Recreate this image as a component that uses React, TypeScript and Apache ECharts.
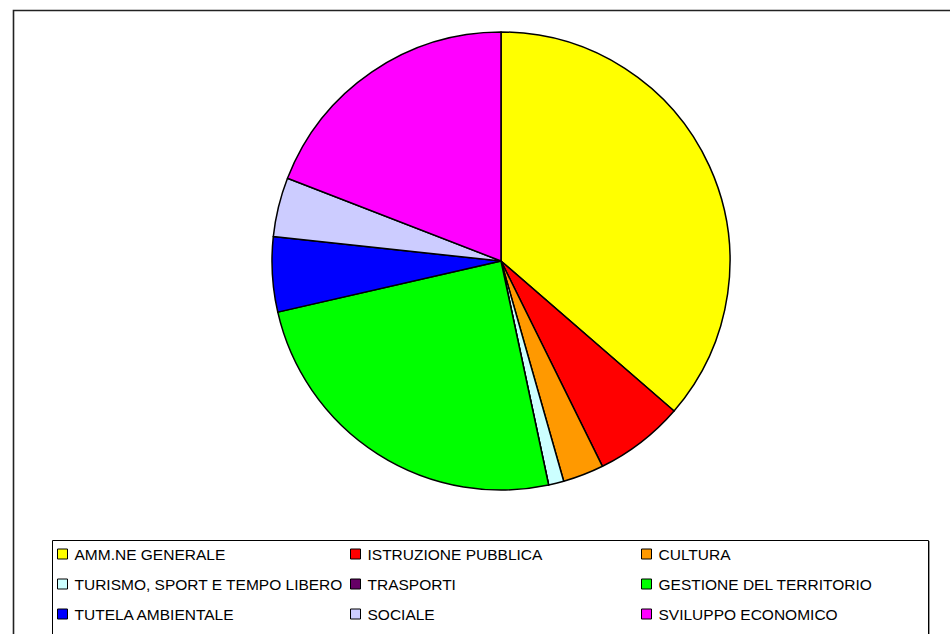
import React, { useEffect, useRef } from "react";
import * as echarts from "echarts";

const categories = [
  "AMM.NE GENERALE",
  "ISTRUZIONE PUBBLICA",
  "CULTURA",
  "TURISMO, SPORT E TEMPO LIBERO",
  "TRASPORTI",
  "GESTIONE DEL TERRITORIO",
  "TUTELA AMBIENTALE",
  "SOCIALE",
  "SVILUPPO ECONOMICO",
];
const values = [36.36, 6.33, 2.89, 1.08, 0, 24.75, 5.28, 4.19, 19.11];
const colors = [
  "#FFFF00",
  "#FF0000",
  "#FF9900",
  "#CCFFFF",
  "#660066",
  "#00FF00",
  "#0000FF",
  "#CCCCFF",
  "#FF00FF",
];
const legendColumns = [
  ["AMM.NE GENERALE", "TURISMO, SPORT E TEMPO LIBERO", "TUTELA AMBIENTALE"],
  ["ISTRUZIONE PUBBLICA", "TRASPORTI", "SOCIALE"],
  ["CULTURA", "GESTIONE DEL TERRITORIO", "SVILUPPO ECONOMICO"],
];
const legendLefts = [52, 345, 636];

export default function App() {
  const ref = useRef<HTMLDivElement>(null);
  useEffect(() => {
    if (!ref.current) return;
    const chart = echarts.init(ref.current, null, { renderer: "svg" });
    const font = "'Liberation Sans', Arial, sans-serif";
    chart.setOption({
      animation: false,
      backgroundColor: "#ffffff",
      color: colors,
      graphic: [
        {
          type: "rect",
          shape: { x: 13.5, y: 10.5, width: 1000, height: 1000 },
          style: { fill: "none", stroke: "#222", lineWidth: 1.6 },
          z: 0,
        },
        {
          type: "rect",
          shape: { x: 52.5, y: 540.5, width: 876, height: 200 },
          style: { fill: "none", stroke: "#000", lineWidth: 1 },
          z: 0,
        },
        {
          type: "line",
          shape: { x1: 929.5, y1: 541, x2: 929.5, y2: 640 },
          style: { stroke: "#999", lineWidth: 1 },
          z: 0,
        },
      ],
      legend: legendColumns.map((col, i) => ({
        data: col,
        orient: "vertical",
        left: legendLefts[i],
        top: 541,
        itemWidth: 10,
        itemHeight: 10,
        itemGap: 14,
        icon: "rect",
        selectedMode: false,
        itemStyle: { borderColor: "#000", borderWidth: 1 },
        textStyle: {
          fontFamily: font,
          fontSize: 15.5,
          color: "#000",
          lineHeight: 16,
          padding: [0, 0, 0, 2],
        },
      })),
      series: [
        {
          type: "pie",
          center: [501, 261],
          radius: 229,
          startAngle: 90,
          clockwise: true,
          label: { show: false },
          labelLine: { show: false },
          emphasis: { disabled: true },
          itemStyle: { borderColor: "#000", borderWidth: 1.5 },
          data: categories.map((name, i) => ({ name, value: values[i] })),
        },
      ],
    });
    return () => chart.dispose();
  }, []);
  return (
    <div
      ref={ref}
      style={{ position: "absolute", left: 0, top: 0, width: 950, height: 634 }}
    />
  );
}
